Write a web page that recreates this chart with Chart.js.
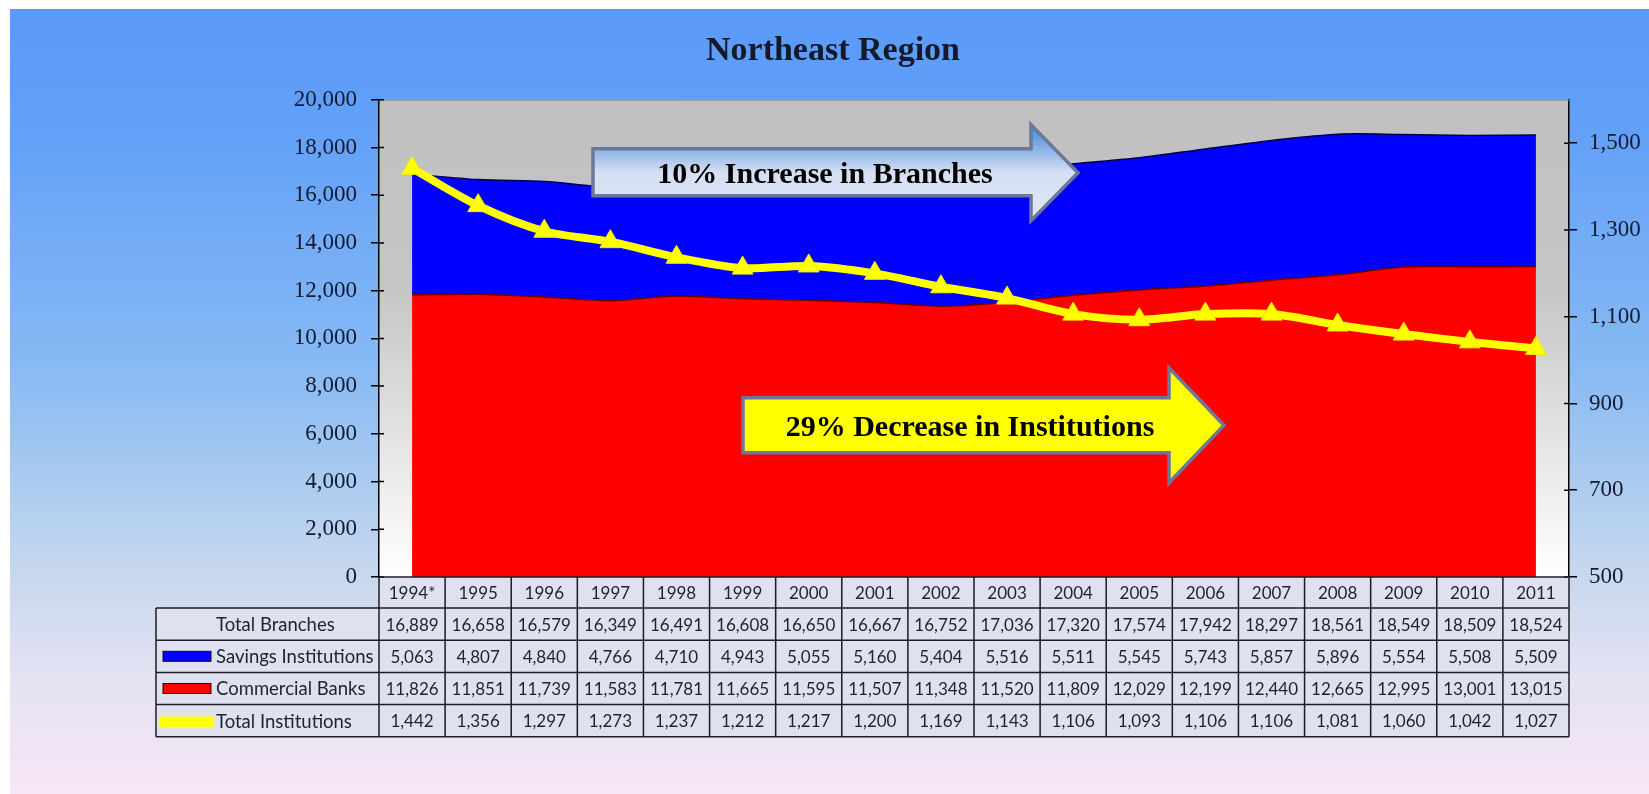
<!DOCTYPE html>
<html>
<head>
<meta charset="utf-8">
<script src="https://cdn.jsdelivr.net/npm/chart.js@4.4.1/dist/chart.umd.min.js"></script>
<style>
  html, body { margin: 0; padding: 0; background: #ffffff; overflow: hidden; }
  canvas { display: block; }
</style>
</head>
<body>
<canvas id="c" width="1649" height="794"></canvas>
<script>
// ---- Data ----
const years = ['1994*','1995','1996','1997','1998','1999','2000','2001','2002','2003','2004','2005','2006','2007','2008','2009','2010','2011'];
const totalBranches = [16889,16658,16579,16349,16491,16608,16650,16667,16752,17036,17320,17574,17942,18297,18561,18549,18509,18524];
const savingsInstitutions = [5063,4807,4840,4766,4710,4943,5055,5160,5404,5516,5511,5545,5743,5857,5896,5554,5508,5509];
const commercialBanks = [11826,11851,11739,11583,11781,11665,11595,11507,11348,11520,11809,12029,12199,12440,12665,12995,13001,13015];
const totalInstitutions = [1442,1356,1297,1273,1237,1212,1217,1200,1169,1143,1106,1093,1106,1106,1081,1060,1042,1027];
const leftTicks = [0,2000,4000,6000,8000,10000,12000,14000,16000,18000,20000];
const rightTicks = [500,700,900,1100,1300,1500];
const titleText = 'Northeast Region';
const arrowUpText = '10% Increase in Branches';
const arrowDownText = '29% Decrease in Institutions';
const tableRows = [
  { label: 'Total Branches', values: totalBranches, swatch: null },
  { label: 'Savings Institutions', values: savingsInstitutions, swatch: 'blue' },
  { label: 'Commercial Banks', values: commercialBanks, swatch: 'red' },
  { label: 'Total Institutions', values: totalInstitutions, swatch: 'yellow' }
];

const fmt = v => v.toLocaleString('en-US');
const TEXT_DARK = '#1c2230';

function drawArrow(ctx, p, fill) {
  ctx.save();
  ctx.beginPath();
  ctx.moveTo(p.bl, p.bt);
  ctx.lineTo(p.hb, p.bt);
  ctx.lineTo(p.hb, p.ht);
  ctx.lineTo(p.tip, p.my);
  ctx.lineTo(p.hb, p.hbot);
  ctx.lineTo(p.hb, p.bb);
  ctx.lineTo(p.bl, p.bb);
  ctx.closePath();
  ctx.fillStyle = fill;
  ctx.fill();
  ctx.lineWidth = 3.5;
  ctx.lineJoin = 'miter';
  ctx.strokeStyle = '#6b7897';
  ctx.stroke();
  ctx.restore();
}

const decorPlugin = {
  id: 'decor',
  beforeDraw(chart) {
    const ctx = chart.ctx;
    const ca = chart.chartArea;
    const W = chart.width, H = chart.height;
    ctx.save();
    ctx.fillStyle = '#ffffff';
    ctx.fillRect(0, 0, W, H);
    const g = ctx.createLinearGradient(0, 9, 0, H);
    g.addColorStop(0, '#5a9af8');
    g.addColorStop(0.15, '#62a0f8');
    g.addColorStop(0.45, '#86b9f4');
    g.addColorStop(0.7, '#c3d6ee');
    g.addColorStop(0.85, '#e4e2f3');
    g.addColorStop(1, '#f7e6f6');
    ctx.fillStyle = g;
    ctx.fillRect(10, 9, W - 10, H - 9);
    // plot area
    const pg = ctx.createLinearGradient(0, ca.top, 0, ca.bottom);
    pg.addColorStop(0, '#c0c0c0');
    pg.addColorStop(0.4, '#c6c6c6');
    pg.addColorStop(1, '#ffffff');
    ctx.fillStyle = pg;
    ctx.fillRect(ca.left, ca.top, ca.right - ca.left, ca.bottom - ca.top);
    // table backgrounds
    const hdrH = 31, rowH = 32.2, tableLeft = 156;
    ctx.fillStyle = '#dfe1f1';
    ctx.fillRect(ca.left, ca.bottom, ca.right - ca.left, hdrH);
    ctx.fillRect(tableLeft, ca.bottom + hdrH, ca.right - tableLeft, rowH * tableRows.length);
    ctx.restore();
  },
  afterDraw(chart) {
    const ctx = chart.ctx;
    const ca = chart.chartArea;
    const xs = chart.scales.x;
    const hdrH = 31, rowH = 32.2, tableLeft = 156;
    const half = (xs.getPixelForValue(1) - xs.getPixelForValue(0)) / 2;
    const top = ca.bottom, hdrBottom = ca.bottom + hdrH;
    const bottom = hdrBottom + rowH * tableRows.length;
    ctx.save();
    // plot top edge
    ctx.strokeStyle = '#8a93a3';
    ctx.lineWidth = 1;
    ctx.beginPath();
    ctx.moveTo(ca.left, ca.top + 0.5);
    ctx.lineTo(ca.right, ca.top + 0.5);
    ctx.stroke();

    // inner halves of axis tick marks (ticks cross the axis lines)
    ctx.strokeStyle = '#000000';
    ctx.lineWidth = 1.5;
    ctx.beginPath();
    chart.scales.y.ticks.forEach(t => {
      const y = chart.scales.y.getPixelForValue(t.value);
      ctx.moveTo(ca.left, y); ctx.lineTo(ca.left + 5, y);
    });
    chart.scales.y2.ticks.forEach(t => {
      const y = chart.scales.y2.getPixelForValue(t.value);
      ctx.moveTo(ca.right - 5, y); ctx.lineTo(ca.right, y);
    });
    ctx.stroke();

    // table grid
    ctx.strokeStyle = '#1c1c24';
    ctx.lineWidth = 1.5;
    ctx.beginPath();
    ctx.moveTo(ca.left, top); ctx.lineTo(ca.right, top);
    for (let r = 0; r <= tableRows.length; r++) {
      const y = hdrBottom + r * rowH;
      ctx.moveTo(tableLeft, y); ctx.lineTo(ca.right, y);
    }
    ctx.moveTo(tableLeft, hdrBottom); ctx.lineTo(tableLeft, bottom);
    for (let i = 0; i < years.length; i++) {
      const xl = xs.getPixelForValue(i) - half;
      ctx.moveTo(xl, top); ctx.lineTo(xl, bottom);
    }
    ctx.moveTo(ca.right, top); ctx.lineTo(ca.right, bottom);
    ctx.stroke();

    // table text
    ctx.textBaseline = 'middle';
    tableRows.forEach((row, r) => {
      const cy = hdrBottom + r * rowH + rowH / 2 + 1;
      ctx.fillStyle = TEXT_DARK;
      ctx.textAlign = 'left';
      ctx.font = '18.5px Lato';
      ctx.fillText(row.label, 216, cy);
      ctx.textAlign = 'center';
      ctx.font = '17px Lato';
      row.values.forEach((v, i) => {
        ctx.fillText(fmt(v), xs.getPixelForValue(i), cy);
      });
      // swatches
      if (row.swatch === 'blue' || row.swatch === 'red') {
        ctx.fillStyle = row.swatch === 'blue' ? '#0000ff' : '#ff0000';
        ctx.fillRect(163, cy - 6, 48, 10);
        ctx.strokeStyle = '#111';
        ctx.lineWidth = 1;
        ctx.strokeRect(163, cy - 6, 48, 10);
      } else if (row.swatch === 'yellow') {
        ctx.save();
        ctx.strokeStyle = '#ffff00';
        ctx.lineWidth = 10;
        ctx.shadowColor = '#ffff40';
        ctx.shadowBlur = 4;
        ctx.beginPath();
        ctx.moveTo(160, cy);
        ctx.lineTo(213, cy);
        ctx.stroke();
        ctx.restore();
      }
    });

    // arrows
    const ox = ca.left, oy = ca.top;
    const a1 = { bl: ox + 214, bt: oy + 49, bb: oy + 96, hb: ox + 652, ht: oy + 25, hbot: oy + 121, tip: ox + 699, my: oy + 73 };
    const g1 = ctx.createLinearGradient(0, a1.ht, 0, a1.hbot);
    g1.addColorStop(0, '#3c86d8');
    g1.addColorStop(0.5, '#d6dff3');
    g1.addColorStop(1, '#dfe6f6');
    drawArrow(ctx, a1, g1);
    const a2 = { bl: ox + 364, bt: oy + 298, bb: oy + 353, hb: ox + 790, ht: oy + 268, hbot: oy + 383, tip: ox + 845, my: oy + 325.5 };
    drawArrow(ctx, a2, '#ffff00');

    ctx.fillStyle = '#000000';
    ctx.textAlign = 'center';
    ctx.textBaseline = 'middle';
    ctx.font = 'bold 30px "Liberation Serif"';
    ctx.fillText(arrowUpText, ox + 446, oy + 75);
    ctx.fillText(arrowDownText, ox + 591, oy + 328);
    ctx.restore();
  }
};

const ctx = document.getElementById('c').getContext('2d');
new Chart(ctx, {
  type: 'line',
  data: {
    labels: years,
    datasets: [
      {
        label: 'Total Institutions',
        data: totalInstitutions,
        yAxisID: 'y2',
        order: 0,
        borderColor: '#ffff00',
        backgroundColor: '#ffff00',
        borderWidth: 8,
        pointStyle: 'triangle',
        pointRadius: 12,
        pointBorderColor: '#eeee00',
        pointBorderWidth: 1,
        tension: 0.3,
        fill: false
      },
      {
        label: 'Commercial Banks',
        data: commercialBanks,
        yAxisID: 'y',
        order: 1,
        borderColor: '#6e0000',
        borderWidth: 1.5,
        backgroundColor: '#ff0000',
        fill: 'origin',
        pointRadius: 0,
        tension: 0.3
      },
      {
        label: 'Savings Institutions',
        data: savingsInstitutions,
        yAxisID: 'y',
        order: 2,
        borderColor: '#000050',
        borderWidth: 1.5,
        backgroundColor: '#0000ff',
        fill: '-1',
        pointRadius: 0,
        tension: 0.3
      }
    ]
  },
  options: {
    responsive: false,
    animation: false,
    layout: { padding: { left: 17, right: 0, top: 0, bottom: 0 } },
    plugins: {
      legend: { display: false },
      tooltip: { enabled: false },
      title: {
        display: true,
        text: titleText,
        color: '#151a2a',
        font: { family: 'Liberation Serif', size: 34, weight: 'bold' },
        padding: { top: 31, bottom: 28 }
      }
    },
    scales: {
      x: {
        offset: true,
        grid: { display: false, drawTicks: false },
        border: { display: false },
        ticks: { color: TEXT_DARK, font: { family: 'Lato', size: 17 }, padding: 6, maxRotation: 0, autoSkip: false },
        afterFit: s => { s.height = 217; }
      },
      y: {
        position: 'left',
        stacked: true,
        min: 0,
        max: 20000,
        afterBuildTicks: s => { s.ticks = leftTicks.map(v => ({ value: v })); },
        ticks: { color: '#141a30', font: { family: 'Liberation Serif', size: 23 }, padding: 14 },
        grid: { drawOnChartArea: false, drawTicks: true, tickLength: 8, color: '#000000', lineWidth: 1.5 },
        border: { color: '#000000', width: 1.5 },
        afterFit: s => { s.width = 362; }
      },
      y2: {
        position: 'right',
        min: 500,
        max: 1600,
        afterBuildTicks: s => { s.ticks = rightTicks.map(v => ({ value: v })); },
        ticks: { color: '#141a30', font: { family: 'Liberation Serif', size: 23 }, padding: 12 },
        grid: { drawOnChartArea: false, drawTicks: true, tickLength: 8, color: '#000000', lineWidth: 1.5 },
        border: { color: '#000000', width: 1.5 },
        afterFit: s => { s.width = 80; }
      }
    }
  },
  plugins: [decorPlugin]
});
</script>
</body>
</html>
